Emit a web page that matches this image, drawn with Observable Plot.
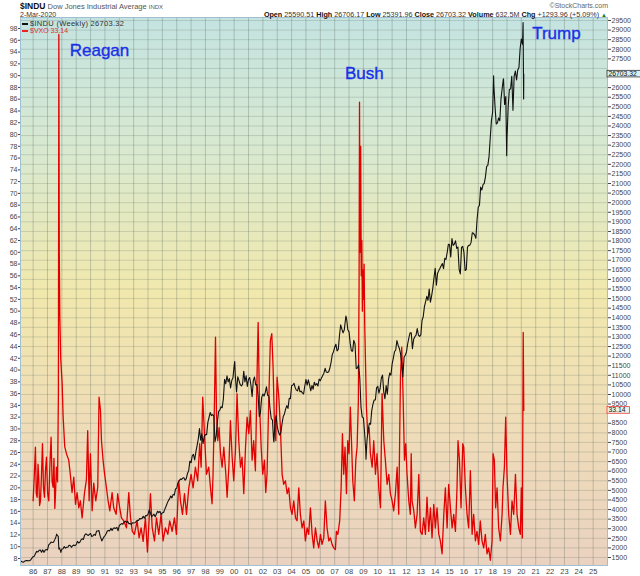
<!DOCTYPE html>
<html><head><meta charset="utf-8">
<script src="https://cdn.jsdelivr.net/npm/d3@7"></script>
<script src="https://cdn.jsdelivr.net/npm/@observablehq/plot@0.6"></script>
<style>
body{margin:0;background:#fff;font-family:"Liberation Sans",Arial,sans-serif;}
#wrap{position:relative;width:640px;height:576px;overflow:hidden;}
.h{position:absolute;white-space:nowrap;color:#222;line-height:1;}
.dash{display:inline-block;width:6px;height:2px;vertical-align:middle;margin-right:2px;}
</style></head><body><div id="wrap"></div>
<script>
// ---- Dow Jones Industrial Average, month-end closes from Jan 1985 ----
const induStartYear = 1985;
const induMonthly = [
1287,1300,1267,1258,1315,1336,1348,1334,1329,1374,1472,1547,
1571,1709,1819,1784,1877,1893,1775,1898,1768,1878,1914,1896,
2158,2224,2305,2286,2292,2419,2572,2663,2596,1994,1834,1939,
1958,2072,1988,2032,2031,2142,2129,2032,2113,2149,2115,2169,
2342,2258,2294,2419,2480,2440,2661,2737,2693,2645,2706,2753,
2591,2627,2707,2657,2877,2881,2905,2614,2453,2442,2560,2634,
2736,2882,2914,2888,3028,2907,3025,3044,3017,3069,2895,3169,
3224,3267,3236,3359,3397,3319,3394,3257,3272,3226,3305,3301,
3310,3371,3435,3428,3527,3516,3540,3651,3555,3681,3684,3754,
3978,3832,3636,3682,3758,3625,3765,3913,3843,3908,3739,3834,
3844,4011,4158,4321,4465,4556,4709,4611,4789,4756,5075,5117,
5395,5486,5588,5569,5643,5655,5529,5616,5882,6029,6522,6448,
6813,6877,6584,7009,7331,7673,8223,7622,7945,7442,7823,7908,
7907,8546,8800,9063,8900,8952,8883,7539,7843,8592,9117,9181,
9359,9307,9786,10789,10560,10971,10655,10829,10337,10729,10878,11497,
10941,10128,10922,10734,10522,10448,10522,11215,10651,10971,10415,10787,
10887,10495,9879,10735,10912,10502,10523,9950,8848,9075,9852,10021,
9920,10106,10404,9946,9925,9243,8737,8664,7592,8397,8896,8342,
8054,7891,7992,8480,8850,8985,9234,9416,9275,9801,9782,10454,
10488,10584,10358,10226,10188,10435,10140,10174,10080,10027,10428,10783,
10490,10766,10504,10193,10467,10275,10641,10482,10569,10440,10806,10718,
10865,10993,11109,11367,11168,11150,11186,11381,11679,12081,12222,12463,
12622,12269,12354,13063,13628,13409,13212,13358,13896,13930,13372,13265,
12650,12266,12263,12820,12638,11350,11378,11544,10851,9325,8829,8776,
8001,7063,7609,8168,8500,8447,9172,9496,9712,9713,10345,10428,
10067,10325,10857,11009,10137,9774,10466,10015,10788,11118,11006,11578,
11892,12226,12320,12811,12570,12414,12143,11614,10913,11955,12046,12218,
12633,12952,13212,13214,12393,12880,13009,13091,13437,13096,13026,13104,
13861,14054,14579,14840,15116,14910,15500,14810,15130,15546,16086,16577,
15699,16322,16458,16581,16717,16827,16563,17098,17043,17391,17828,17823,
17165,18133,17776,17841,18011,17620,17690,16528,16285,17664,17720,17425,
16466,16517,17685,17774,17787,17930,18432,18401,18308,18142,19124,19763,
19864,20812,20663,20941,21009,21350,21891,21948,22405,23377,24272,24719,
26149,25029,24103,24163,24416,24271,25415,25965,26458,25116,25538,23327,
24999,25916,25929,26593,24815,26600,26864,26403,26917,27046,28051,28538,
28256
];
// weekly extremes visible in the chart [decimal year, close]
const induWeekly = [
[1987.64,2722],[1987.79,1950],[1987.93,1766],[1990.78,2365],[2000.04,11723],
[2002.77,7528],[2007.78,14093],[2009.18,6627],[2018.07,26617],[2018.76,26447],
[2018.98,22445],[2020.12,29398],[2020.16,25409],[2020.17,26703.32]
];
// ---- VXO weekly readings [decimal year, value] ----
const vxoPoints = [
[1986.00,17.8],[1986.08,22],[1986.16,26.9],[1986.22,19],[1986.28,18.4],[1986.34,24],[1986.39,21.8],[1986.45,17],[1986.51,17.8],[1986.58,22],[1986.65,27.5],[1986.72,20],[1986.79,18.4],[1986.86,23],[1986.93,25.2],[1987.01,19],
[1987.09,17.8],[1987.17,24],[1987.25,28.6],[1987.32,21],[1987.39,20.1],[1987.45,25],[1987.51,16.5],[1987.56,19],[1987.62,23.5],[1987.70,21],[1987.76,36],[1987.79,97],
[1987.82,60],[1987.86,49],[1987.92,42],[1988.02,37.7],[1988.09,32],[1988.20,27],[1988.32,25.8],[1988.48,24.7],
[1988.60,22],[1988.71,19.2],[1988.83,21.8],[1988.95,17.2],[1989.06,19.2],[1989.18,16.6],[1989.29,17.8],[1989.41,14.9],
[1989.57,19],[1989.71,21.4],[1989.80,29.7],[1989.90,17.8],[1989.99,25.8],[1990.11,16.1],[1990.22,20.8],[1990.36,17.8],
[1990.50,20.1],[1990.59,35.4],[1990.69,33.1],[1990.76,28],[1990.87,24.7],[1990.97,22.5],[1991.10,20.1],[1991.22,17.8],
[1991.34,16.1],[1991.50,19.2],[1991.61,16.6],[1991.78,15.5],[1991.89,19],[1992.03,16.6],[1992.15,14.9],[1992.31,14.4],
[1992.50,13.2],[1992.66,19.2],[1992.78,14.9],[1992.91,12.6],[1993.05,12.1],[1993.24,14.4],[1993.38,11.5],[1993.52,13.2],
[1993.66,10.9],[1993.82,14.9],[1993.96,9.1],[1994.17,19],[1994.29,13.3],[1994.45,11],[1994.59,14.9],[1994.75,12.1],
[1994.91,15.5],[1995.05,11],[1995.21,13.2],[1995.38,12.1],[1995.51,14.4],[1995.68,12.6],[1995.84,14.9],[1995.98,12.1],
[1996.14,21.2],[1996.26,17.8],[1996.40,15.5],[1996.54,19],[1996.68,15.5],[1996.84,20],[1997.00,22.3],[1997.14,20],
[1997.30,23.5],[1997.46,21.2],[1997.60,27.5],[1997.70,23.5],[1997.81,35.4],[1997.93,29.2],[1998.07,22.3],[1998.23,23.5],
[1998.35,20],[1998.46,17.3],[1998.53,22.3],[1998.63,34.8],[1998.70,45.6],[1998.77,32.6],[1998.86,28],[1998.95,30.2],
[1999.05,25.8],[1999.16,23.5],[1999.28,26.9],[1999.42,22.3],[1999.51,18.4],[1999.63,23.5],[1999.74,31.4],[1999.86,25.2],
[1999.97,21.2],[2000.09,26.3],[2000.20,36],[2000.32,28],[2000.44,23.5],[2000.55,25.2],[2000.67,19],[2000.79,26.9],
[2000.90,32],[2001.02,29.2],[2001.13,33.1],[2001.25,24.7],[2001.36,28],[2001.48,22.9],[2001.60,39.9],[2001.67,48.1],
[2001.76,34.8],[2001.88,26.9],[2001.99,22.3],[2002.11,24.7],[2002.20,19.2],[2002.29,22.3],[2002.41,34.8],[2002.52,45],
[2002.62,46.2],[2002.71,40.5],[2002.80,31.4],[2002.90,28],[2002.99,38.8],[2003.11,35.4],[2003.22,30.2],[2003.34,22.3],
[2003.45,20.6],[2003.57,21.2],[2003.69,19],[2003.80,20],[2003.92,16.6],[2004.03,15.5],[2004.15,17.8],[2004.27,14.9],
[2004.38,14.4],[2004.50,20],[2004.61,15.5],[2004.73,13.2],[2004.85,14.4],[2004.96,11],[2005.08,13.2],[2005.19,12.1],
[2005.31,16.6],[2005.43,12.1],[2005.54,9.8],[2005.66,13.2],[2005.78,11],[2005.89,9.8],[2006.01,12.1],[2006.12,10.4],
[2006.24,11.5],[2006.35,17.8],[2006.47,13.2],[2006.59,11],[2006.70,11.5],[2006.82,10.4],[2006.93,9.8],[2007.05,9.5],
[2007.12,12.6],[2007.22,12.1],[2007.35,14.4],[2007.45,20],[2007.54,29.2],[2007.63,22.3],[2007.72,26.9],[2007.82,19],
[2007.91,28],[2008.00,25.8],[2008.09,33.7],[2008.17,28],[2008.26,21.2],[2008.37,17.8],[2008.47,24.7],[2008.56,26.9],
[2008.65,34.8],[2008.70,55],[2008.73,85.5],[2008.77,60],[2008.81,78],[2008.85,56],[2008.89,62],[2008.93,50],
[2008.97,57],[2009.01,52],[2009.05,58],[2009.09,48],[2009.14,42],[2009.21,33.7],[2009.30,29.2],[2009.40,30.2],
[2009.49,25.8],[2009.61,23.5],[2009.72,28],[2009.84,22.3],[2009.95,25.8],[2010.07,20],[2010.19,16.6],[2010.30,36],
[2010.42,28],[2010.53,24.7],[2010.65,20.6],[2010.77,22.3],[2010.88,19],[2011.00,17.8],[2011.11,16.1],[2011.23,19],
[2011.35,23.5],[2011.46,15.5],[2011.58,38.8],[2011.67,43.9],[2011.76,36],[2011.86,24.7],[2011.95,27.5],[2012.04,22.3],
[2012.16,17.8],[2012.27,15.5],[2012.33,25.8],[2012.39,17.8],[2012.51,16.1],[2012.62,13.2],[2012.74,15.5],[2012.86,22.3],
[2012.97,12.6],[2013.09,12.1],[2013.20,14.9],[2013.32,12.1],[2013.43,18.4],[2013.55,12.6],[2013.67,16.6],[2013.78,11.5],
[2013.90,17.2],[2014.01,13.2],[2014.13,16.6],[2014.25,12.1],[2014.36,11],[2014.48,8.8],[2014.60,15.5],[2014.71,20],
[2014.83,13.2],[2014.94,20.6],[2015.06,16.6],[2015.18,13.2],[2015.29,15.5],[2015.41,12.6],[2015.52,20],[2015.59,28],
[2015.69,24.7],[2015.80,16.6],[2015.92,27.5],[2015.99,26.9],[2016.10,20],[2016.22,15.5],[2016.33,13.2],[2016.45,22.9],
[2016.57,12.1],[2016.68,15.5],[2016.80,11],[2016.91,12.6],[2017.03,10.4],[2017.14,14.4],[2017.26,11],[2017.38,9.8],
[2017.49,12.1],[2017.61,8.8],[2017.72,9.8],[2017.84,7.7],[2017.96,11],[2018.03,25.8],[2018.12,24.7],[2018.21,16.6],
[2018.31,20],[2018.42,13.2],[2018.54,11],[2018.66,15.5],[2018.72,20],[2018.82,23.5],[2018.91,32],[2019.00,22.3],
[2019.12,15.5],[2019.24,12.1],[2019.35,17.8],[2019.47,15.5],[2019.59,22.3],[2019.70,15.5],[2019.82,13.2],[2019.93,12.1],
[2020.00,20],[2020.07,11.5],[2020.13,46.4],[2020.17,33.14]
];
// ---- axes / scales ----
const xDomain = [1985.12, 2026.0];
const induDomain = [1083, 29656];
const vxoDomain = [6.81, 99.87];
const yearTicks = d3.range(1986, 2026);
const induTicks = d3.range(1500, 29501, 500);
const vxoTicks = d3.range(8, 99, 2);
// ---- annotations ----
const annLabels = ["Reagan", "Bush", "Trump"];
const annYears = [1990.62, 2009.07, 2022.44];
const annVxo = [94.3, 90.4, 97.2];
const lastIndu = 26703.32, lastVxo = 33.14;

const k = (induDomain[1] - induDomain[0]) / (vxoDomain[1] - vxoDomain[0]);
const toInd = v => induDomain[0] + (v - vxoDomain[0]) * k;
const fromInd = y => vxoDomain[0] + (y - induDomain[0]) / k;

const induData = induMonthly.map((v, i) => ({t: induStartYear + (i + 1) / 12, v}))
  .concat(induWeekly.map(([t, v]) => ({t, v})))
  .sort((a, b) => a.t - b.t);
const vxoData = vxoPoints.map(([t, v]) => ({t, v: toInd(v)}));
const annData = annLabels.map((label, i) => ({label, t: annYears[i], v: toInd(annVxo[i])}));

// right-axis labels hidden behind the last-value boxes
const pxPerUnit = (576 - 17 - 11) / (induDomain[1] - induDomain[0]);
const boxVals = [lastIndu, toInd(lastVxo)];
const rightTicks = induTicks.filter(t => boxVals.every(b => Math.abs(t - b) * pxPerUnit > 6));

const chart = Plot.plot({
  width: 640, height: 576,
  marginTop: 17, marginBottom: 11, marginLeft: 20, marginRight: 33,
  x: {domain: xDomain, label: null},
  y: {domain: induDomain, label: null},
  style: {fontFamily: "'Liberation Sans', Arial, sans-serif", fontSize: "7px", color: "#444", background: "transparent", overflow: "visible"},
  marks: [
    Plot.frame({fill: "url(#bgGrad)"}),
    Plot.gridX(yearTicks, {stroke: "#55675b", strokeOpacity: 0.3}),
    Plot.gridY(induTicks, {stroke: "#55675b", strokeOpacity: 0.22}),
    Plot.line(vxoData, {x: "t", y: "v", stroke: "#e20000", strokeWidth: 1.3, clip: true}),
    Plot.line(induData, {x: "t", y: "v", stroke: "#111", strokeWidth: 1.1, clip: true}),
    Plot.axisX(yearTicks, {tickSize: 0, tickPadding: 3, label: null, fontSize: 7.5,
      tickFormat: d => String(d % 100).padStart(2, "0")}),
    Plot.axisY(rightTicks, {anchor: "right", tickSize: 3, tickPadding: 1, label: null, tickFormat: d => String(d)}),
    Plot.axisY(vxoTicks.map(toInd), {anchor: "left", tickSize: 2, tickPadding: 1, label: null,
      tickFormat: d => String(Math.round(fromInd(d)))}),
    Plot.frame({stroke: "#9fbfd3"}),
    Plot.text(annData, {x: "t", y: "v", text: "label", fill: "#1830e8", stroke: "#1830e8", strokeWidth: 0.35,
      fontSize: 17, fontFamily: "'Liberation Sans', Arial, sans-serif"})
  ]
});

const svg = d3.select(chart);
const grad = svg.insert("defs", ":first-child").append("linearGradient")
  .attr("id", "bgGrad").attr("x1", 0).attr("y1", 0).attr("x2", 0).attr("y2", 1);
[["0%", "#c4e3e1"], ["25%", "#d9e9cf"], ["50%", "#f1e8ad"], ["75%", "#efdcb8"], ["100%", "#ead2c0"]]
  .forEach(([o, c]) => grad.append("stop").attr("offset", o).attr("stop-color", c));

const ys = chart.scale("y");
const xr = 640 - 33;
function valueBox(val, label, fill, stroke) {
  const y = ys.apply(val);
  const g = svg.append("g");
  g.append("rect").attr("x", xr).attr("y", y - 3.3).attr("width", label.length * 3.9 + 3)
    .attr("height", 6.6).attr("fill", fill).attr("stroke", stroke).attr("stroke-width", 0.8);
  g.append("text").attr("x", xr + 1.5).attr("y", y).attr("dy", "0.34em").attr("text-anchor", "start")
    .attr("font-size", 6.8).attr("fill", "#111").text(label);
}
valueBox(lastIndu, lastIndu.toFixed(2), "#d9f0f0", "#333");
valueBox(toInd(lastVxo), lastVxo.toFixed(2), "#e8f5ea", "#e33");

const wrap = document.getElementById("wrap");
wrap.appendChild(chart);
wrap.insertAdjacentHTML("beforeend", `
<div class="h" style="left:20px;top:2px;font-size:7.5px;color:#555"><b style="font-size:8.5px;color:#111">$INDU</b> Dow Jones Industrial Average <span style="font-size:6px">INDX</span></div>
<div class="h" style="left:20px;top:11px;font-size:7px;color:#333">2-Mar-2020</div>
<div class="h" style="right:33px;top:10.5px;font-size:7.2px;color:#333"><b style="color:#111">Open</b> 25590.51 <b style="color:#111">High</b> 26706.17 <b style="color:#111">Low</b> 25391.96 <b style="color:#111">Close</b> 26703.32 <b style="color:#111">Volume</b> 632.5M <b style="color:#111">Chg</b> +1293.96 (+5.09%) <span style="color:#2a7a2a;font-size:6px">&#9650;</span></div>
<div class="h" style="right:32px;top:2px;font-size:7px;color:#666">&copy;StockCharts.com</div>
<div class="h" style="left:22px;top:19.5px;font-size:7.5px;color:#333;letter-spacing:0.3px"><span class="dash" style="background:#111"></span>$INDU (Weekly) 26703.32</div>
<div class="h" style="left:22px;top:26.5px;font-size:7px;color:#d33"><span class="dash" style="background:#e22"></span>$VXO 33.14</div>
`);
</script></body></html>
